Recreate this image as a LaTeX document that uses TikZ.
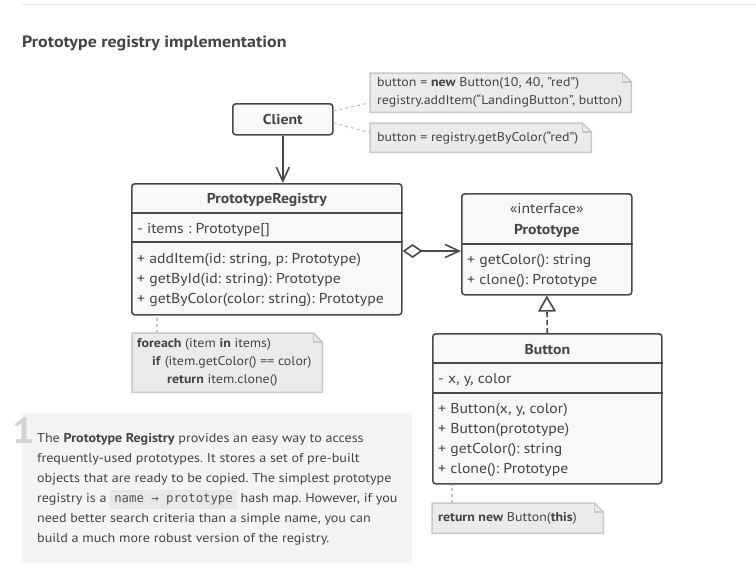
\documentclass[tikz,border=0pt]{standalone}
\usepackage{fontspec}
\setmainfont{PT Sans}[FakeStretch=1.1]
\newfontfamily\codefont{DejaVu Sans Mono}
\usetikzlibrary{arrows.meta}
\frenchspacing

\definecolor{txtgray}{HTML}{444444}
\definecolor{boxline}{HTML}{4A4A4A}
\definecolor{boxfill}{HTML}{F8F8F8}
\definecolor{notefill}{HTML}{EBEBEB}
\definecolor{noteline}{HTML}{C8C8C8}
\definecolor{linkgray}{HTML}{C4C4C4}
\definecolor{panelfill}{HTML}{F4F4F4}
\definecolor{codebg}{HTML}{E8E8E8}
\definecolor{codetxt}{HTML}{555555}
\definecolor{rulegray}{HTML}{E6E6E6}
\definecolor{numgray}{HTML}{D2D2D2}

\newcommand\umlfont{\fontsize{14.3}{20}\selectfont}
\newcommand\notefont{\fontsize{12.65}{18}\selectfont}
\newcommand\parafont{\fontsize{12.8}{20}\selectfont}
\newcommand\codebit[1]{{\setlength\fboxsep{4pt}\colorbox{codebg}{\codefont\fontsize{12.3}{12}\selectfont\color{codetxt}#1}}}

\tikzset{
  umlbox/.style={draw=boxline, fill=boxfill, line width=1.6pt, rounded corners=3pt,
    anchor=north west, inner sep=0pt},
  umltitle/.style={text=txtgray, font=\umlfont\bfseries, inner sep=0pt},
  umltext/.style={text=txtgray, font=\umlfont, inner sep=0pt, align=left, anchor=west},
  sepline/.style={draw=boxline, line width=1.6pt},
  notebox/.style={anchor=north west, inner sep=0pt},
  notetext/.style={text=txtgray, font=\notefont, inner sep=0pt, align=left, anchor=west},
  link/.style={draw=linkgray, line width=1.2pt, dash pattern=on 3pt off 3pt},
  assoc/.style={draw=boxline, line width=1.6pt, -{Straight Barb[length=14pt,width=13pt]}},
  aggr/.style={draw=boxline, line width=1.6pt,
    {Diamond[open,length=20pt,width=14pt]}-{Straight Barb[length=14pt,width=13pt]}},
  inherit/.style={draw=boxline, line width=1.6pt, dash pattern=on 5pt off 3pt,
    -{Triangle[open,length=16pt,width=18pt]}},
}

\begin{document}
\begin{tikzpicture}[x=1pt,y=-1pt]
\useasboundingbox (0,0) rectangle (756,587);
% en-tete
\draw[rulegray, line width=1pt] (22,4) -- (756,4);
\node[anchor=base west, inner sep=0pt, text=txtgray, font=\fontsize{16.3}{16}\selectfont\bfseries]
  (title) at (22,47) {Prototype registry implementation};

% encadre explicatif
\fill[panelfill] (22,413) rectangle (412,563);
\node[anchor=base west, inner sep=0pt, text=numgray, font=\fontsize{36}{36}\selectfont\bfseries]
  (num) at (12,443) {1};
\node[anchor=west, inner sep=0pt, align=left, text=txtgray, font=\parafont] (para) at (37,489) {%
  The \textbf{Prototype Registry} provides an easy way to access\\
  frequently-used prototypes. It stores a set of pre-built\\
  objects that are ready to be copied. The simplest prototype\\
  registry is a \codebit{name → prototype} hash map. However, if you\\
  need better search criteria than a simple name, you can\\
  build a much more robust version of the registry.};

% notes
\node[notebox, minimum width=261pt, minimum height=39pt] (noteA) at (370,73) {};
\node[notebox, minimum width=221pt, minimum height=29pt] (noteB) at (370,123) {};
\node[notebox, minimum width=190pt, minimum height=59pt] (noteC) at (132,333) {};
\node[notebox, minimum width=171pt, minimum height=30pt] (noteD) at (432,503) {};
\foreach \n in {noteA,noteB,noteC,noteD}{
  \filldraw[fill=notefill, draw=noteline, line width=1.5pt]
    (\n.north west) -- ([xshift=-9pt]\n.north east) -- ([yshift=-9pt]\n.north east)
    -- (\n.south east) -- (\n.south west) -- cycle;
  \draw[noteline, line width=1.5pt] ([xshift=-9pt]\n.north east) |- ([yshift=-9pt]\n.north east);
}
\node[notetext] (noteAtext) at ([xshift=7pt]noteA.west)
  {button = \textbf{new} Button(10, 40, "red")\\registry.addItem(“LandingButton”, button)};
\node[notetext] (noteBtext) at ([xshift=7pt]noteB.west) {button = registry.getByColor(“red”)};
\node[notetext] (noteCtext) at ([xshift=5pt]noteC.west)
  {\textbf{foreach} (item \textbf{in} items)\\
   \hspace*{15pt}\textbf{if} (item.getColor() == color)\\
   \hspace*{30pt}\textbf{return} item.clone()};
\node[notetext] (noteDtext) at ([xshift=6pt]noteD.west) {\textbf{return new} Button(\textbf{this})};

% classes
\node[umlbox, minimum width=100pt, minimum height=31pt, font=\umlfont\bfseries, text=txtgray]
  (client) at (232,103) {Client};

\node[umlbox, minimum width=270pt, minimum height=131pt] (registry) at (131,183) {};
\draw[sepline] ([yshift=-30pt]registry.north west) -- ([yshift=-30pt]registry.north east);
\draw[sepline] ([yshift=-59pt]registry.north west) -- ([yshift=-59pt]registry.north east);
\node[umltitle] (registryT) at ([yshift=-16.5pt]registry.north) {PrototypeRegistry};
\node[umltext] (registryA) at ([xshift=6pt,yshift=-47pt]registry.north west) {- items : Prototype[]};
\node[umltext] (registryM) at ([xshift=6pt,yshift=-97pt]registry.north west)
  {+ addItem(id: string, p: Prototype)\\
   + getById(id: string): Prototype\\
   + getByColor(color: string): Prototype};

\node[umlbox, minimum width=170pt, minimum height=101pt] (proto) at (461,193) {};
\draw[sepline] ([yshift=-51pt]proto.north west) -- ([yshift=-51pt]proto.north east);
\node[umltitle, align=center, font=\fontsize{14.3}{21}\selectfont] (protoT) at ([yshift=-27.5pt]proto.north)
  {«interface»\\\textbf{Prototype}};
\node[umltext] (protoM) at ([xshift=6pt,yshift=-78pt]proto.north west)
  {+ getColor(): string\\
   + clone(): Prototype};

\node[umlbox, minimum width=229pt, minimum height=150pt] (button) at (432,333) {};
\draw[sepline] ([yshift=-30pt]button.north west) -- ([yshift=-30pt]button.north east);
\draw[sepline] ([yshift=-60pt]button.north west) -- ([yshift=-60pt]button.north east);
\node[umltitle] (buttonT) at ([yshift=-16.5pt]button.north) {Button};
\node[umltext] (buttonA) at ([xshift=6pt,yshift=-47pt]button.north west) {- x, y, color};
\node[umltext] (buttonM) at ([xshift=6pt,yshift=-107pt]button.north west)
  {+ Button(x, y, color)\\
   + Button(prototype)\\
   + getColor(): string\\
   + clone(): Prototype};

% liens
\draw[link] ([yshift=8.5pt]client.east) -- ([yshift=-10pt]noteA.west);
\draw[link] ([yshift=-3.5pt]client.east) -- ([yshift=5pt]noteB.west);
\draw[link] ([xshift=25pt]noteC.north west) -- ([xshift=25pt]noteC.north west |- registry.south);
\draw[link] ([xshift=20pt]noteD.north west) -- ([xshift=20pt]noteD.north west |- button.south);

\draw[assoc] (client.south) -- (client.south |- registry.north);
\coordinate (agg) at (0,251);
\draw[aggr] (registry.east |- agg) -- (proto.west |- agg);
\draw[inherit] (button.north) -- (proto.south);
\end{tikzpicture}
\end{document}
